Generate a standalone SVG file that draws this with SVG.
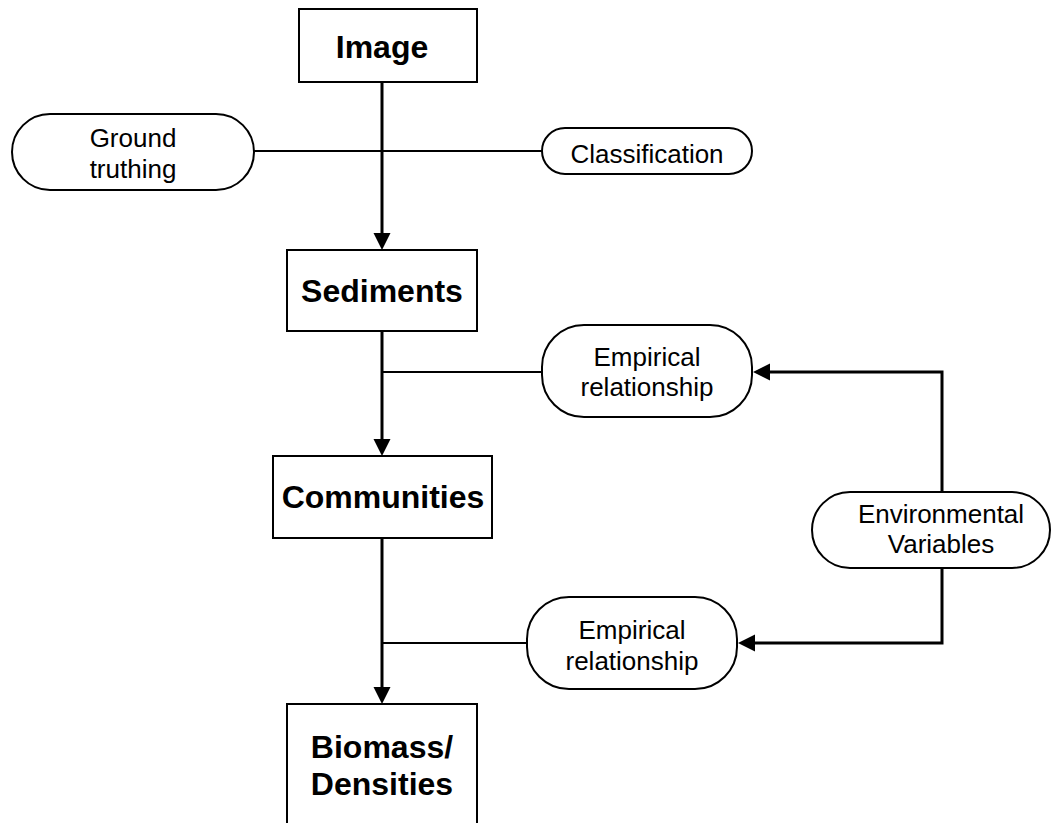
<svg xmlns="http://www.w3.org/2000/svg" width="1060" height="823" viewBox="0 0 1060 823">
<defs>
<marker id="arr" markerUnits="userSpaceOnUse" markerWidth="18" markerHeight="18" refX="10" refY="9" orient="auto" viewBox="0 0 18 18">
<path d="M0,0.5 L17,9 L0,17.5 Z" fill="#000"/>
</marker>
<style>
.box{fill:#fff;stroke:#000;stroke-width:2}
.cap{fill:#fff;stroke:#000;stroke-width:2}
.b{font-family:"Liberation Sans",Arial,sans-serif;font-weight:bold;font-size:32px;text-anchor:middle;fill:#000}
.r{font-family:"Liberation Sans",Arial,sans-serif;font-size:26px;text-anchor:middle;fill:#000}
.thick{fill:none;stroke:#000;stroke-width:3}
.thin{fill:none;stroke:#000;stroke-width:2}
</style>
</defs>
<rect width="1060" height="823" fill="#fff"/>
<g id="connectors">
<line class="thin" x1="254" y1="151" x2="542" y2="151"/>
<line class="thin" x1="382" y1="372" x2="542" y2="372"/>
<line class="thin" x1="382" y1="643" x2="527" y2="643"/>
<line class="thick" x1="382" y1="82" x2="382" y2="243" marker-end="url(#arr)"/>
<line class="thick" x1="382" y1="331" x2="382" y2="449" marker-end="url(#arr)"/>
<line class="thick" x1="382" y1="538" x2="382" y2="697" marker-end="url(#arr)"/>
<polyline class="thick" points="942,492 942,372 760,372" marker-end="url(#arr)"/>
<polyline class="thick" points="942,568 942,643 745,643" marker-end="url(#arr)"/>
</g>
<g id="image">
<rect class="box" x="299" y="9" width="178" height="73"/>
<text class="b" x="382" y="58">Image</text>
</g>
<g id="ground-truthing">
<rect class="cap" x="12" y="114" width="242" height="76" rx="38" ry="38"/>
<text class="r" x="133" y="147">Ground</text>
<text class="r" x="133" y="178">truthing</text>
</g>
<g id="classification">
<rect class="cap" x="542" y="128" width="210" height="46" rx="23" ry="23"/>
<text class="r" x="647" y="163">Classification</text>
</g>
<g id="sediments">
<rect class="box" x="287" y="250" width="190" height="81"/>
<text class="b" x="382" y="302">Sediments</text>
</g>
<g id="empirical-1">
<rect class="cap" x="542" y="325" width="210" height="92" rx="42" ry="42"/>
<text class="r" x="647" y="366">Empirical</text>
<text class="r" x="647" y="396">relationship</text>
</g>
<g id="communities">
<rect class="box" x="273" y="456" width="219" height="82"/>
<text class="b" x="383" y="508">Communities</text>
</g>
<g id="environmental">
<rect class="cap" x="812" y="492" width="238" height="76" rx="38" ry="38"/>
<text class="r" x="941" y="523">Environmental</text>
<text class="r" x="941" y="553">Variables</text>
</g>
<g id="empirical-2">
<rect class="cap" x="527" y="597" width="210" height="92" rx="42" ry="42"/>
<text class="r" x="632" y="639">Empirical</text>
<text class="r" x="632" y="670">relationship</text>
</g>
<g id="biomass">
<rect class="box" x="287" y="704" width="190" height="140"/>
<text class="b" x="382" y="758">Biomass/</text>
<text class="b" x="382" y="795">Densities</text>
</g>
</svg>
